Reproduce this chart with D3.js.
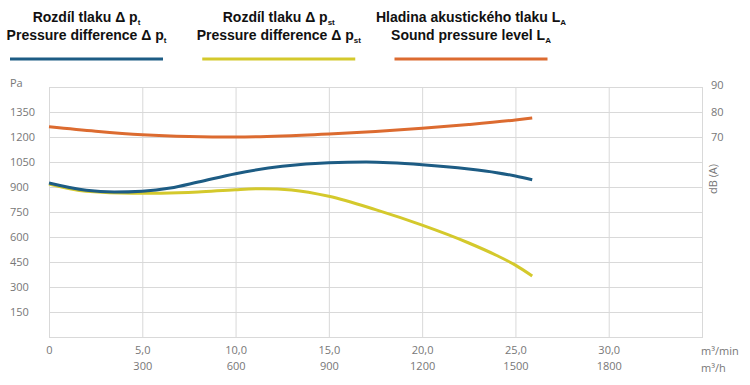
<!DOCTYPE html>
<html>
<head>
<meta charset="utf-8">
<script src="https://cdn.jsdelivr.net/npm/d3@7"></script>
<style>
  body { margin: 0; background: #fff; }
  .tick text, .lbl { font-family: "Open Sans", sans-serif; font-size: 11px; fill: #777; }
  .leg { font-family: "Liberation Sans", Arial, sans-serif; font-size: 14px; font-weight: bold; fill: #111; }
</style>
</head>
<body>
<svg width="750" height="385"></svg>
<script>
// flow in m3/min
var flowPt = [0, 2, 3.5, 5, 6.5, 8, 10, 12.5, 15, 17, 20, 22.5, 24, 25, 25.9];
var pt     = [924, 880, 870, 875, 894, 930, 980, 1024, 1046, 1050, 1034, 1008, 986, 966, 944];

var flowPst = [0, 2, 4.5, 6, 8, 10, 11.5, 13, 15, 17.5, 20, 22.5, 24, 25, 25.9];
var pst     = [918, 874, 862, 863, 870, 884, 890, 882, 844, 764, 671, 564, 489, 431, 366];

var flowLa = [0, 2.5, 5, 7.5, 10, 12.5, 15, 17.5, 20, 22.5, 25, 25.9];
var la     = [74.1, 72.3, 70.9, 70.2, 70.0, 70.4, 71.2, 72.2, 73.5, 75.0, 76.8, 77.6];

var paTicks = [150, 300, 450, 600, 750, 900, 1050, 1200, 1350];
var dbTicks = [70, 80, 90];
var minTicks = [0, 5, 10, 15, 20, 25, 30];
var hTicks = [300, 600, 900, 1200, 1500, 1800];

var legend = [
  {l1: "Rozdíl tlaku Δ p", s: "t", l2: "Pressure difference Δ p", color: "#1d5c84"},
  {l1: "Rozdíl tlaku Δ p", s: "st", l2: "Pressure difference Δ p", color: "#d4c92c"},
  {l1: "Hladina akustického tlaku L", s: "A", l2: "Sound pressure level L", color: "#dc6b30"}
];

var svg = d3.select("svg"),
    margin = {top: 87, right: 48, bottom: 48, left: 49},
    width = +svg.attr("width") - margin.left - margin.right,
    height = +svg.attr("height") - margin.top - margin.bottom,
    g = svg.append("g").attr("transform", "translate(" + margin.left + "," + margin.top + ")");

var x = d3.scaleLinear().domain([0, 35]).range([0, width]);
var xh = d3.scaleLinear().domain([0, 2100]).range([0, width]);
var y = d3.scaleLinear().domain([0, 1500]).range([height, 0]);
var yd = d3.scaleLinear().domain([-10, 90]).range([height, 0]);

// grid
g.append("g").selectAll("line").data(paTicks).enter().append("line")
    .attr("x1", 0).attr("x2", width)
    .attr("y1", function (d) { return y(d) + 0.5; }).attr("y2", function (d) { return y(d) + 0.5; })
    .attr("stroke", "#d9d9d9");
g.append("g").selectAll("line").data(minTicks.slice(1)).enter().append("line")
    .attr("y1", 0).attr("y2", height)
    .attr("x1", function (d) { return x(d) + 0.5; }).attr("x2", function (d) { return x(d) + 0.5; })
    .attr("stroke", "#d9d9d9");
g.append("rect").attr("x", 0.5).attr("y", 0.5).attr("width", width).attr("height", height)
    .attr("fill", "none").attr("stroke", "#d9d9d9");

// axes
var ya = g.append("g").call(d3.axisLeft(y).tickValues(paTicks).tickSize(0).tickFormat(d3.format("d")));
ya.select(".domain").remove();
ya.selectAll("text").attr("text-anchor", "start").attr("x", 10 - margin.left);

var yr = g.append("g").attr("transform", "translate(" + width + ",0)")
    .call(d3.axisRight(yd).tickValues(dbTicks).tickSize(0));
yr.select(".domain").remove();
yr.selectAll("text").attr("x", 9).attr("dy", function (d) { return d == 90 ? "0.1em" : "0.35em"; });

var xa = g.append("g").attr("transform", "translate(0," + height + ")")
    .call(d3.axisBottom(x).tickValues(minTicks).tickSize(0)
        .tickFormat(function (d) { return d == 0 ? "0" : d3.format(".1f")(d).replace(".", ","); }));
xa.select(".domain").remove();
xa.selectAll("text").attr("y", 9);

var xb = g.append("g").attr("transform", "translate(0," + height + ")")
    .call(d3.axisBottom(xh).tickValues(hTicks).tickSize(0).tickFormat(d3.format("d")));
xb.select(".domain").remove();
xb.selectAll("text").attr("y", 25);

svg.append("text").attr("class", "lbl").attr("x", 10).attr("y", 87).text("Pa");
svg.append("text").attr("class", "lbl").attr("x", 701).attr("y", 355).text("m³/min");
svg.append("text").attr("class", "lbl").attr("x", 701).attr("y", 372).text("m³/h");
svg.append("text").attr("class", "lbl").attr("text-anchor", "middle")
    .attr("transform", "translate(717,179) rotate(-90)").text("dB (A)");

// curves
var line = d3.line().curve(d3.curveMonotoneX);
function pts(xs, ys, sy) { return xs.map(function (v, i) { return [x(v), sy(ys[i])]; }); }

g.append("path").attr("d", line(pts(flowLa, la, yd)))
    .attr("fill", "none").attr("stroke", legend[2].color).attr("stroke-width", 3);
g.append("path").attr("d", line(pts(flowPst, pst, y)))
    .attr("fill", "none").attr("stroke", legend[1].color).attr("stroke-width", 3);
g.append("path").attr("d", line(pts(flowPt, pt, y)))
    .attr("fill", "none").attr("stroke", legend[0].color).attr("stroke-width", 3);

// legend
var lx = d3.scalePoint().domain([0, 1, 2]).range([86.5, 471]);
var lg = svg.append("g").selectAll("g").data(legend).enter().append("g")
    .attr("transform", function (d, i) { return "translate(" + lx(i) + ",0)"; });
lg.append("line").attr("x1", -76.5).attr("x2", 76.5).attr("y1", 59).attr("y2", 59)
    .attr("stroke", function (d) { return d.color; }).attr("stroke-width", 3);
[["l1", 22], ["l2", 40]].forEach(function (r) {
  var t = lg.append("text").attr("class", "leg").attr("text-anchor", "middle").attr("y", r[1]);
  t.append("tspan").text(function (d) { return d[r[0]]; });
  t.append("tspan").attr("font-size", "8px").attr("dy", 3).text(function (d) { return d.s; });
});
</script>
</body>
</html>
